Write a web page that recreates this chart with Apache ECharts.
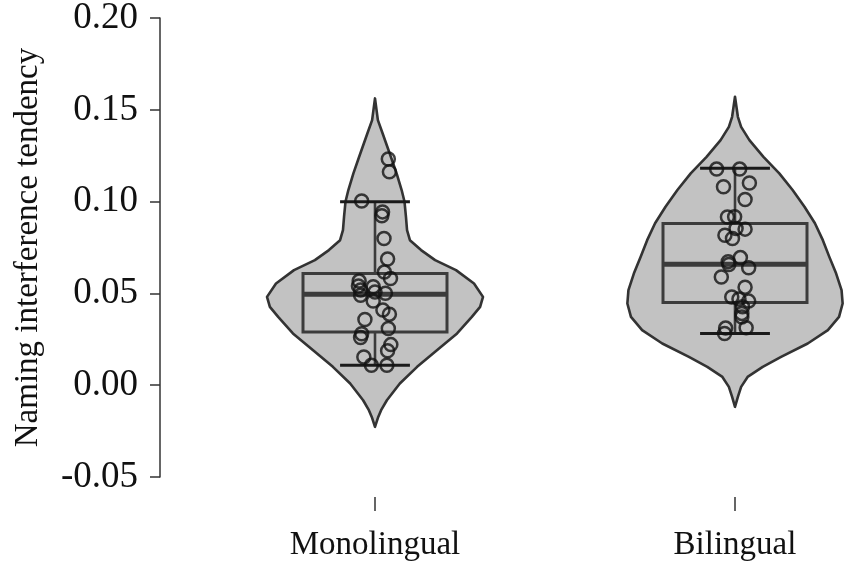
<!DOCTYPE html>
<html>
<head>
<meta charset="utf-8">
<title>Naming interference tendency</title>
<script src="https://cdn.jsdelivr.net/npm/echarts@6/dist/echarts.min.js"></script>
<style>
    html, body { margin: 0; padding: 0; background: #fff; }
    #container { width: 850px; height: 566px; }
</style>
</head>
<body>
<div id="container"></div>
<script>
    // groups on the x axis
    var groups = ['Monolingual', 'Bilingual'];

    // violin outlines: value and half width (in group units)
    var monoViolinY = [0.1562, 0.1444, 0.1372, 0.1244, 0.1154, 0.1063, 0.0999, 0.0917, 0.0845, 0.0790, 0.0736, 0.0681, 0.0627,
        0.0554, 0.0481, 0.0427, 0.0372, 0.0282, 0.0191, 0.0100, 0.0009, -0.0082, -0.0136, -0.0173, -0.0227];
    var monoViolinW = [0, 0.008, 0.021, 0.044, 0.060, 0.074, 0.082, 0.086, 0.089, 0.097, 0.128, 0.167, 0.225,
        0.275, 0.300, 0.292, 0.269, 0.228, 0.172, 0.117, 0.069, 0.033, 0.017, 0.009, 0];
    var biViolinY = [0.1571, 0.1462, 0.1407, 0.1335, 0.1244, 0.1154, 0.1063, 0.0972, 0.0882, 0.0790, 0.0699, 0.0608,
        0.0518, 0.0445, 0.0372, 0.0300, 0.0227, 0.0154, 0.0100, 0.0045, -0.0009, -0.0064, -0.0118];
    var biViolinW = [0, 0.008, 0.017, 0.040, 0.079, 0.123, 0.160, 0.193, 0.222, 0.244, 0.262, 0.281,
        0.296, 0.299, 0.289, 0.258, 0.202, 0.128, 0.077, 0.035, 0.017, 0.008, 0];

    // box: [lower whisker, Q1, median, Q3, upper whisker]
    var monoBox = [0.0109, 0.0290, 0.0496, 0.0609, 0.0999];
    var biBox = [0.0282, 0.0451, 0.0659, 0.0881, 0.1181];

    // individual participants: horizontal jitter and value
    var monoJitter = [0.037, 0.040, -0.037, 0.021, 0.019, 0.025, 0.035, 0.026, 0.043, -0.044, -0.046, -0.040, -0.040,
        -0.005, 0.000, 0.029, -0.005, 0.022, 0.040, -0.028, 0.037, -0.037, -0.040, 0.044, 0.035, -0.031, -0.010, 0.033];
    var monoValues = [0.1232, 0.1162, 0.1003, 0.0944, 0.0923, 0.0799, 0.0687, 0.0616, 0.0581, 0.0567, 0.0540, 0.0518, 0.0490,
        0.0536, 0.0508, 0.0501, 0.0458, 0.0409, 0.0387, 0.0358, 0.0309, 0.0280, 0.0260, 0.0221, 0.0188, 0.0154, 0.0109, 0.0109];
    var biJitter = [-0.051, 0.013, -0.032, 0.040, 0.028, -0.021, -0.001, 0.003, 0.028, -0.028, -0.007, -0.019, 0.015,
        0.038, -0.038, 0.028, -0.009, 0.011, 0.038, 0.021, 0.019, 0.019, 0.031, -0.026, -0.029, -0.017];
    var biValues = [0.1177, 0.1177, 0.1081, 0.1101, 0.1011, 0.0916, 0.0918, 0.0854, 0.0850, 0.0817, 0.0799, 0.0673, 0.0695,
        0.0640, 0.0589, 0.0534, 0.0480, 0.0469, 0.0458, 0.0427, 0.0391, 0.0371, 0.0313, 0.0311, 0.0282, 0.0657];

    var violins = [[monoViolinY, monoViolinW], [biViolinY, biViolinW]];
    var boxes = [monoBox, biBox];

    var font = 'Liberation Serif';
    var boxHalf = 0.2;
    var capHalf = 0.097;

    var dom = document.getElementById('container');
    var myChart = echarts.init(dom, null, {renderer: 'canvas'});

    function violinItem(params, api) {
        var g = api.value(0);
        var ys = violins[g][0], ws = violins[g][1];
        var pts = [];
        for (var i = 0; i < ys.length; i++) pts.push(api.coord([g + ws[i], ys[i]]));
        for (var j = ys.length - 1; j >= 0; j--) pts.push(api.coord([g - ws[j], ys[j]]));
        return {
            type: 'polygon',
            shape: {points: pts},
            style: {fill: '#c2c2c2', stroke: '#333', lineWidth: 2.6, lineJoin: 'round'}
        };
    }

    function boxItem(params, api) {
        var g = api.value(0);
        var b = boxes[g];
        var lw = api.coord([g, b[0]]), q1 = api.coord([g - boxHalf, b[1]]), md = api.coord([g, b[2]]),
            q3 = api.coord([g + boxHalf, b[3]]), hi = api.coord([g, b[4]]);
        var cl = api.coord([g - capHalf, 0])[0], cr = api.coord([g + capHalf, 0])[0];
        var line = {stroke: '#3c3c3c', lineWidth: 2.6};
        return {
            type: 'group',
            children: [
                {type: 'line', shape: {x1: hi[0], y1: hi[1], x2: hi[0], y2: q3[1]}, style: line},
                {type: 'line', shape: {x1: lw[0], y1: lw[1], x2: lw[0], y2: q1[1]}, style: line},
                {type: 'rect', shape: {x: q1[0], y: q3[1], width: q3[0] - q1[0], height: q1[1] - q3[1]},
                    style: {fill: 'none', stroke: '#3c3c3c', lineWidth: 3}},
                {type: 'line', shape: {x1: q1[0], y1: md[1], x2: q3[0], y2: md[1]},
                    style: {stroke: '#3c3c3c', lineWidth: 5}},
                {type: 'line', shape: {x1: cl, y1: hi[1], x2: cr, y2: hi[1]}, style: {stroke: '#1a1a1a', lineWidth: 3}},
                {type: 'line', shape: {x1: cl, y1: lw[1], x2: cr, y2: lw[1]}, style: {stroke: '#1a1a1a', lineWidth: 3}}
            ]
        };
    }

    var points = [];
    for (var i = 0; i < monoValues.length; i++) points.push([0 + monoJitter[i], monoValues[i]]);
    for (var k = 0; k < biValues.length; k++) points.push([1 + biJitter[k], biValues[k]]);

    var option = {
        animation: false,
        grid: {left: 195, width: 720, top: 18, bottom: 89, outerBoundsMode: 'none'},
        xAxis: [
            {
                type: 'category',
                data: groups,
                offset: 20,
                axisLine: {show: false, onZero: false},
                axisTick: {show: true, alignWithLabel: true, length: 14, lineStyle: {color: '#333', width: 1.5}},
                axisLabel: {fontFamily: font, fontSize: 33, color: '#111', margin: 32}
            },
            {type: 'value', min: -0.5, max: 1.5, show: false, axisLine: {onZero: false}}
        ],
        yAxis: {
            type: 'value',
            min: -0.05,
            max: 0.2,
            interval: 0.05,
            offset: 35,
            name: 'Naming interference tendency',
            nameLocation: 'middle',
            nameGap: 115,
            nameTextStyle: {fontFamily: font, fontSize: 33, color: '#111'},
            axisLine: {show: true, onZero: false, lineStyle: {color: '#333', width: 1.5}},
            axisTick: {show: true, length: 10, lineStyle: {color: '#333', width: 1.5}},
            splitLine: {show: false},
            axisLabel: {
                fontFamily: font, fontSize: 37, color: '#111', margin: 22,
                formatter: function (v) { return v.toFixed(2); }
            }
        },
        series: [
            {type: 'custom', xAxisIndex: 1, renderItem: violinItem, data: [[0], [1]], z: 1},
            {type: 'custom', xAxisIndex: 1, renderItem: boxItem, data: [[0], [1]], z: 2},
            {
                type: 'scatter', xAxisIndex: 1, data: points, z: 3,
                symbol: 'circle', symbolSize: 13,
                itemStyle: {color: 'rgba(0,0,0,0)', borderColor: '#111', borderWidth: 2.5}
            }
        ]
    };

    myChart.setOption(option);
    window.addEventListener('resize', myChart.resize);
</script>
</body>
</html>
